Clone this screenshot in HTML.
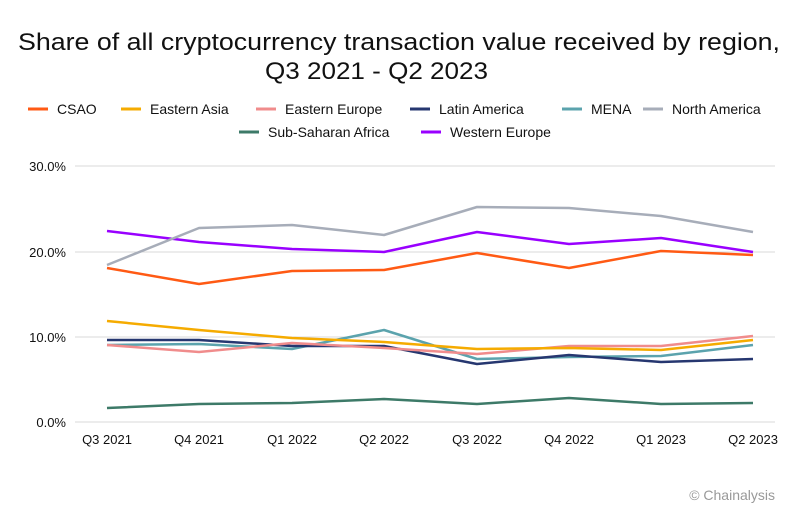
<!DOCTYPE html>
<html><head><meta charset="utf-8"><style>
body{margin:0;background:#fff;}
svg text{font-family:"Liberation Sans",sans-serif;fill:#111;}
</style></head><body>
<svg width="800" height="515" viewBox="0 0 800 515" xmlns="http://www.w3.org/2000/svg">
<rect width="800" height="515" fill="#fff"/>
<text x="18" y="50" font-size="24" textLength="762" lengthAdjust="spacingAndGlyphs">Share of all cryptocurrency transaction value received by region,</text>
<text x="265" y="79" font-size="24" textLength="223" lengthAdjust="spacingAndGlyphs">Q3 2021 - Q2 2023</text>
<g font-size="14">
<line x1="28" y1="109" x2="48" y2="109" stroke="#ff5a14" stroke-width="3"/><text x="57" y="114">CSAO</text>
<line x1="121" y1="109" x2="141" y2="109" stroke="#f5ab00" stroke-width="3"/><text x="150" y="114">Eastern Asia</text>
<line x1="256" y1="109" x2="276" y2="109" stroke="#f08c8c" stroke-width="3"/><text x="285" y="114">Eastern Europe</text>
<line x1="410" y1="109" x2="430" y2="109" stroke="#263770" stroke-width="3"/><text x="439" y="114">Latin America</text>
<line x1="562" y1="109" x2="582" y2="109" stroke="#5ba3ad" stroke-width="3"/><text x="591" y="114">MENA</text>
<line x1="643" y1="109" x2="663" y2="109" stroke="#a7adb9" stroke-width="3"/><text x="672" y="114">North America</text>
<line x1="239" y1="132" x2="259" y2="132" stroke="#3d7a68" stroke-width="3"/><text x="268" y="137">Sub-Saharan Africa</text>
<line x1="421" y1="132" x2="441" y2="132" stroke="#9900ff" stroke-width="3"/><text x="450" y="137">Western Europe</text>
</g>
<g stroke="#d9d9d9" stroke-width="1">
<line x1="75" y1="166" x2="775" y2="166"/><line x1="75" y1="252" x2="775" y2="252"/><line x1="75" y1="337" x2="775" y2="337"/><line x1="75" y1="422" x2="775" y2="422"/>
</g>
<g font-size="13" text-anchor="end">
<text x="66" y="171">30.0%</text><text x="66" y="257">20.0%</text><text x="66" y="342">10.0%</text><text x="66" y="427">0.0%</text>
</g>
<g font-size="13" text-anchor="middle">
<text x="107" y="444">Q3 2021</text><text x="199" y="444">Q4 2021</text><text x="292" y="444">Q1 2022</text><text x="384" y="444">Q2 2022</text><text x="477" y="444">Q3 2022</text><text x="569" y="444">Q4 2022</text><text x="661" y="444">Q1 2023</text><text x="753" y="444">Q2 2023</text>
</g>
<g fill="none" stroke-width="2.5" stroke-linejoin="round">
<polyline stroke="#3d7a68" points="107,408 199,404 292,403 384,399 477,404 569,398 661,404 753,403"/>
<polyline stroke="#5ba3ad" points="107,345 199,344 292,349 384,330 477,359 569,357 661,356 753,345"/>
<polyline stroke="#263770" points="107,340 199,340 292,346 384,346 477,364 569,355 661,362 753,359"/>
<polyline stroke="#f08c8c" points="107,345 199,352 292,343 384,348 477,354 569,346 661,346 753,336"/>
<polyline stroke="#f5ab00" points="107,321 199,330 292,338 384,342 477,349 569,348 661,350 753,340"/>
<polyline stroke="#ff5a14" points="107,268 199,284 292,271 384,270 477,253 569,268 661,251 753,255"/>
<polyline stroke="#9900ff" points="107,231 199,242 292,249 384,252 477,232 569,244 661,238 753,252"/>
<polyline stroke="#a7adb9" points="107,265 199,228 292,225 384,235 477,207 569,208 661,216 753,232"/>
</g>
<text x="775" y="500" font-size="14" text-anchor="end" style="fill:#999">© Chainalysis</text>
</svg>
</body></html>
